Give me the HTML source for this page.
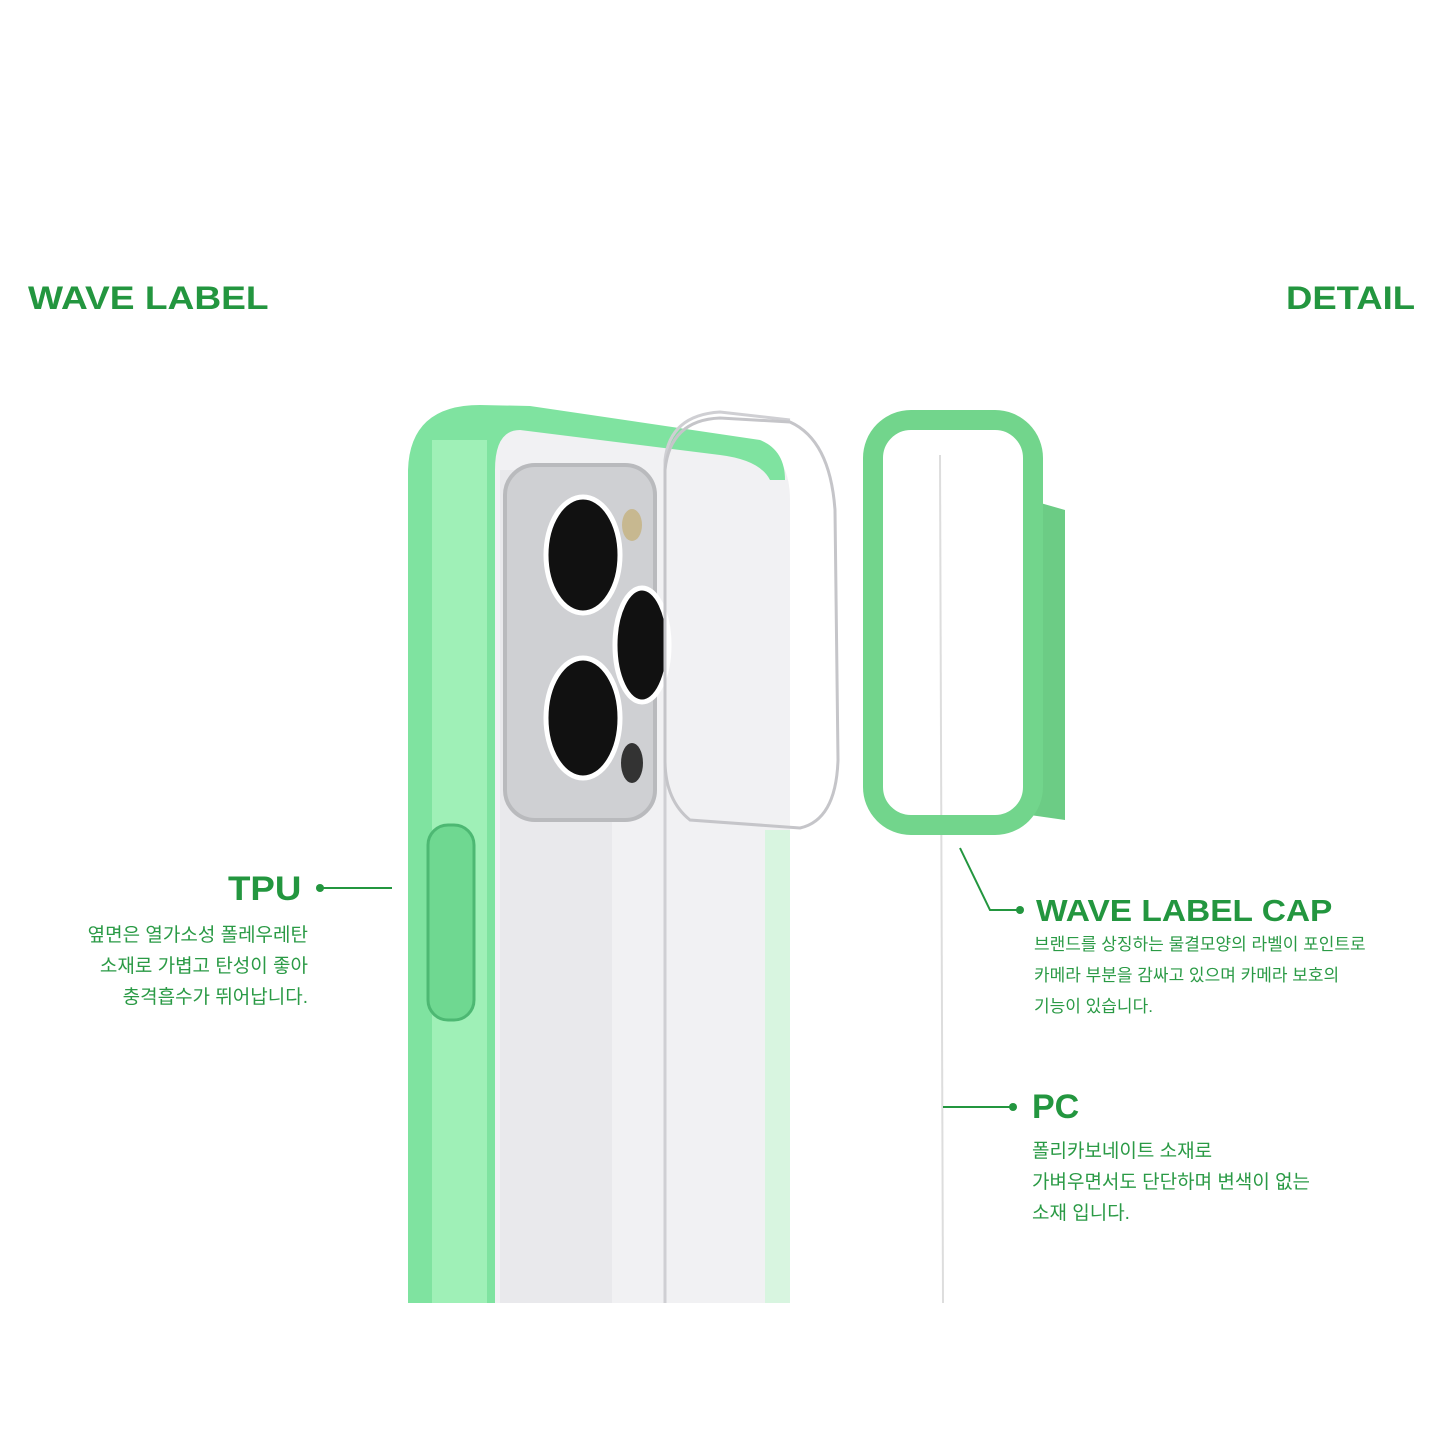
<!DOCTYPE html>
<html><head><meta charset="utf-8"><style>
html,body{margin:0;padding:0;background:#fff;}
body{width:1445px;height:1445px;position:relative;overflow:hidden;font-family:"Liberation Sans","Noto Sans CJK KR",sans-serif;}
.t{position:absolute;color:#23963f;font-weight:900;white-space:nowrap;transform-origin:0 0;}
.k{position:absolute;color:#2a9a45;font-size:19px;line-height:31px;white-space:nowrap;}
</style></head><body>
<svg width="1445" height="1445" style="position:absolute;left:0;top:0">
  <path d="M480 1303 L480 470 Q485 420 560 425 L740 440 Q790 445 790 500 L790 1303 Z" fill="#f1f1f3"/>
  <path d="M408 1303 L408 470 Q410 405 480 405 L530 406 L760 440 Q785 450 785 480 L770 480 Q760 460 720 455 L520 430 Q495 430 495 470 L495 1303 Z" fill="#7fe3a0"/>
  <rect x="432" y="440" width="55" height="863" fill="#9ff0b7"/>
  <rect x="500" y="470" width="112" height="833" fill="#e9e9ec"/>
  <rect x="505" y="465" width="150" height="355" rx="30" fill="#cfd0d3" stroke="#b9babd" stroke-width="4"/>
  <ellipse cx="583" cy="555" rx="37" ry="58" fill="#111" stroke="#fff" stroke-width="5"/>
  <ellipse cx="583" cy="718" rx="37" ry="60" fill="#111" stroke="#fff" stroke-width="5"/>
  <ellipse cx="642" cy="645" rx="27" ry="57" fill="#111" stroke="#fff" stroke-width="5"/>
  <ellipse cx="632" cy="525" rx="10" ry="16" fill="#c7b890"/>
  <ellipse cx="632" cy="763" rx="11" ry="20" fill="#333"/>
  <rect x="428" y="825" width="46" height="195" rx="20" fill="#6fd891" stroke="#4db873" stroke-width="3"/>
  <path d="M665 1303 L665 460 Q670 415 720 412 L790 420" fill="none" stroke="#cfcfd3" stroke-width="3"/>
  <path d="M690 820 Q665 800 665 760 L665 470 Q670 420 720 418 L790 422 Q830 440 835 510 L838 760 Q836 820 800 828 Z" fill="none" stroke="#c5c5c9" stroke-width="3"/>
  <path d="M765 830 L790 830 L790 1303 L765 1303 Z" fill="#d8f5e0"/>
  <line x1="940" y1="455" x2="943" y2="1303" stroke="#ddd" stroke-width="2"/>
  <path d="M1030 500 L1065 510 L1065 820 L1030 815 Z" fill="#6ccc85"/>
  <rect x="873" y="420" width="160" height="405" rx="38" fill="none" stroke="#72d58c" stroke-width="20"/>
  <line x1="318" y1="888" x2="392" y2="888" stroke="#23963f" stroke-width="2"/>
  <circle cx="320" cy="888" r="4" fill="#23963f"/>
  <polyline points="960,848 990,910 1020,910" fill="none" stroke="#23963f" stroke-width="2"/>
  <circle cx="1020" cy="910" r="4" fill="#23963f"/>
  <line x1="943" y1="1107" x2="1013" y2="1107" stroke="#23963f" stroke-width="2"/>
  <circle cx="1013" cy="1107" r="4" fill="#23963f"/>
</svg>
<div class="t" style="left:28px;top:280px;font-size:32px;transform:scaleX(1.16);">WAVE LABEL</div>
<div class="t" style="left:1286px;top:280px;font-size:32px;transform:scaleX(1.14);">DETAIL</div>
<div class="t" style="left:228px;top:870px;font-size:34px;transform:scaleX(1.08);">TPU</div>
<div class="k" style="right:1137px;top:920px;text-align:right;">옆면은 열가소성 폴레우레탄<br>소재로 가볍고 탄성이 좋아<br>충격흡수가 뛰어납니다.</div>
<div class="t" style="left:1036px;top:893px;font-size:31px;transform:scaleX(1.08);">WAVE LABEL CAP</div>
<div class="k" style="left:1034px;top:929px;font-size:17px;line-height:31px;">브랜드를 상징하는 물결모양의 라벨이 포인트로<br>카메라 부분을 감싸고 있으며 카메라 보호의<br>기능이 있습니다.</div>
<div class="t" style="left:1032px;top:1088px;font-size:34px;">PC</div>
<div class="k" style="left:1032px;top:1136px;">폴리카보네이트 소재로<br>가벼우면서도 단단하며 변색이 없는<br>소재 입니다.</div>
</body></html>
